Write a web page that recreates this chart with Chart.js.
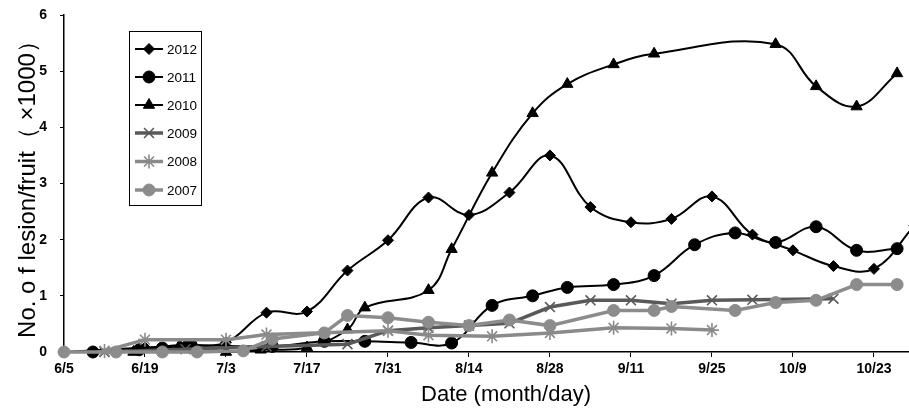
<!DOCTYPE html>
<html>
<head>
<meta charset="utf-8">
<script src="https://cdn.jsdelivr.net/npm/chart.js@4.4.0/dist/chart.umd.min.js"></script>
<style>
  html, body { margin: 0; padding: 0; background: #fff; overflow: hidden; }
  #wrap { width: 948px; height: 414px; position: relative; }
</style>
</head>
<body>
<div id="wrap"><canvas id="mychart"></canvas></div>
<script>
// x軸の目盛り（6/5からの日数で14日ごと）
const dateLabels = ['6/5', '6/19', '7/3', '7/17', '7/31', '8/14', '8/28', '9/11', '9/25', '10/9', '10/23'];

// 各年のデータ（6/5からの日数, 値）
const days2012 = [0, 14, 21, 28, 35, 42, 49, 56, 63, 70, 77, 84, 91, 98, 105, 112, 119, 126, 133, 140, 147];
const vals2012 = [0, 0.08, 0.12, 0.17, 0.70, 0.72, 1.45, 1.99, 2.75, 2.44, 2.84, 3.50, 2.58, 2.31, 2.37, 2.77, 2.09, 1.81, 1.53, 1.48, 2.25];

const days2011 = [5, 13, 17, 22, 36, 45, 52, 60, 67, 74, 81, 87, 95, 102, 109, 116, 123, 130, 137, 144];
const vals2011 = [0, 0.04, 0.07, 0.12, 0.10, 0.19, 0.19, 0.17, 0.16, 0.83, 1.00, 1.15, 1.20, 1.36, 1.91, 2.12, 1.95, 2.23, 1.81, 1.84];

const days2010 = [12, 20, 28, 34, 42, 49, 52, 63, 67, 74, 81, 87, 95, 102, 123, 130, 137, 144];
const vals2010 = [0, 0.12, 0, 0.04, 0.08, 0.40, 0.79, 1.10, 1.83, 3.19, 4.25, 4.77, 5.12, 5.31, 5.48, 4.73, 4.37, 4.96];

const days2009 = [7, 21, 35, 49, 56, 63, 70, 77, 84, 91, 98, 105, 112, 119, 133];
const vals2009 = [0, 0.05, 0.10, 0.14, 0.38, 0.43, 0.47, 0.51, 0.80, 0.92, 0.92, 0.86, 0.92, 0.93, 0.95];

const days2008 = [7, 14, 28, 35, 56, 63, 74, 84, 95, 105, 112];
const vals2008 = [0.02, 0.22, 0.22, 0.31, 0.38, 0.30, 0.28, 0.34, 0.43, 0.42, 0.39];

const days2007 = [0, 9, 17, 23, 31, 36, 45, 49, 56, 63, 70, 77, 84, 95, 102, 105, 116, 123, 130, 137, 144];
const vals2007 = [0, 0, 0, 0, 0.02, 0.23, 0.34, 0.65, 0.61, 0.53, 0.47, 0.57, 0.47, 0.74, 0.74, 0.81, 0.74, 0.88, 0.92, 1.20, 1.20];

function toPoints(days, vals) {
    return days.map((d, i) => ({ x: d, y: vals[i] }));
}

const series = [
    { label: '2012', data: toPoints(days2012, vals2012), color: '#000000', width: 2, style: 'rectRot', radius: 5.5, smooth: true, order: 6 },
    { label: '2011', data: toPoints(days2011, vals2011), color: '#000000', width: 2, style: 'circle', radius: 6, smooth: true, order: 5 },
    { label: '2010', data: toPoints(days2010, vals2010), color: '#000000', width: 2, style: 'triangle', radius: 6.5, smooth: true, order: 4 },
    { label: '2009', data: toPoints(days2009, vals2009), color: '#595959', width: 3.5, style: 'crossRot', radius: 7, smooth: false, order: 3 },
    { label: '2008', data: toPoints(days2008, vals2008), color: '#8a8a8a', width: 3.5, style: 'star', radius: 7, smooth: false, order: 2 },
    { label: '2007', data: toPoints(days2007, vals2007), color: '#8c8c8c', width: 3.5, style: 'circle', radius: 6, smooth: false, order: 1 }
];

const datasets = series.map(s => ({
    label: s.label,
    data: s.data,
    borderColor: s.color,
    backgroundColor: s.color,
    borderWidth: s.width,
    pointStyle: s.style,
    pointRadius: s.radius,
    pointBorderWidth: (s.style === 'crossRot' || s.style === 'star') ? 1.6 : 1,
    pointBackgroundColor: s.color,
    pointBorderColor: s.color,
    tension: s.smooth ? 0.4 : 0,
    order: s.order,
    clip: false
}));

// 凡例（枠付き、プロット内左上）
const boxLegend = {
    id: 'boxLegend',
    afterDraw(chart) {
        const ctx = chart.ctx;
        ctx.save();
        ctx.strokeStyle = '#000';
        ctx.lineWidth = 1;
        ctx.strokeRect(129.5, 31.5, 72, 174);
        const ys = [49, 77, 105, 133, 161.5, 190];
        series.forEach((s, i) => {
            const y = ys[i];
            ctx.strokeStyle = s.color;
            ctx.lineWidth = s.width;
            ctx.beginPath();
            ctx.moveTo(135, y);
            ctx.lineTo(163, y);
            ctx.stroke();
            ctx.fillStyle = s.color;
            ctx.lineWidth = (s.style === 'crossRot' || s.style === 'star') ? 1.6 : 1;
            Chart.helpers.drawPoint(ctx, { pointStyle: s.style, radius: s.radius, rotation: 0, borderWidth: ctx.lineWidth }, 149, y);
            ctx.fillStyle = '#000';
            ctx.font = '13.5px "Liberation Sans", Arial, sans-serif';
            ctx.textBaseline = 'middle';
            ctx.textAlign = 'left';
            ctx.fillText(s.label, 167, y + 1);
        });
        ctx.restore();
    }
};

const ctx = document.getElementById('mychart');

const lineChart = new Chart(ctx, {
    type: 'line',
    data: { datasets: datasets },
    options: {
        responsive: true,
        maintainAspectRatio: false,
        animation: false,
        layout: { autoPadding: false, padding: { top: 0, right: 0, left: 0, bottom: 0 } },
        plugins: {
            legend: { display: false },
            tooltip: { enabled: false }
        },
        scales: {
            x: {
                type: 'linear',
                min: 0,
                max: 152.8,
                afterFit(scale) { scale.height = 62; },
                grid: { display: true, drawOnChartArea: false, drawTicks: true, tickLength: 5, color: '#000' },
                border: { color: '#000', width: 1.5 },
                ticks: {
                    stepSize: 14,
                    includeBounds: false,
                    autoSkip: false,
                    maxRotation: 0,
                    padding: 4,
                    color: '#000',
                    font: { family: '"Liberation Sans", Arial, sans-serif', size: 14, weight: 'bold' },
                    callback: (v, i) => dateLabels[i]
                },
                title: {
                    display: true,
                    text: 'Date (month/day)',
                    color: '#000',
                    font: { family: '"Liberation Sans", Arial, sans-serif', size: 22 },
                    padding: { top: 0, bottom: 6 }
                }
            },
            y: {
                min: 0,
                max: 6,
                afterFit(scale) {
                    scale.width = 64;
                    scale.paddingTop = 15;
                    scale.paddingBottom = 0;
                },
                grid: { display: true, drawOnChartArea: false, drawTicks: true, tickLength: 4, color: '#000' },
                border: { color: '#000', width: 1.5 },
                ticks: {
                    stepSize: 1,
                    padding: 13,
                    color: '#000',
                    font: { family: '"Liberation Sans", Arial, sans-serif', size: 14, weight: 'bold' }
                },
                title: {
                    display: true,
                    text: 'No. o f lesion/fruit（ ×1000）',
                    color: '#000',
                    font: { family: '"Liberation Sans", Arial, sans-serif', size: 24 },
                    padding: { top: 14, bottom: 0 }
                }
            }
        }
    },
    plugins: [boxLegend]
});
</script>
</body>
</html>
